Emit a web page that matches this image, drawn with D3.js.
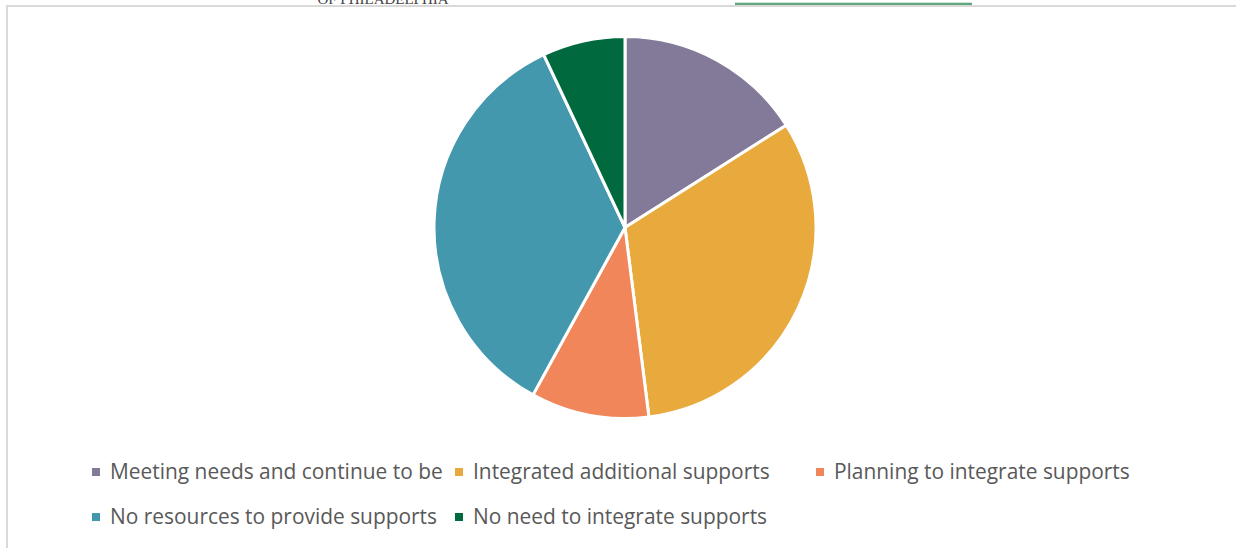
<!DOCTYPE html>
<html>
<head>
<meta charset="utf-8">
<script src="https://cdn.jsdelivr.net/npm/d3@7"></script>
<style>
html,body{margin:0;padding:0;background:#fff;overflow:hidden;}
svg{display:block;}
</style>
</head>
<body>
<svg id="chart" width="1236" height="548"></svg>
<script>
const categories = [
  "Meeting needs and continue to be",
  "Integrated additional supports",
  "Planning to integrate supports",
  "No resources to provide supports",
  "No need to integrate supports"
];
const values = [16, 32, 10, 35, 7];
const colors = ["#837A99", "#E8AA3C", "#F0865A", "#4498AD", "#006A3E"];

const svg = d3.select("#chart");

// page fragments above the chart frame (cut off as in the source page)
svg.append("text")
  .attr("x", 383).attr("y", 4)
  .attr("text-anchor", "middle")
  .attr("font-family", "Liberation Serif, DejaVu Serif, serif")
  .attr("font-size", 15)
  .attr("fill", "#444")
  .text("OF PHILADELPHIA");
svg.append("rect").attr("x", 735).attr("y", 2).attr("width", 237).attr("height", 1).attr("fill", "#cfe6d8");
svg.append("rect").attr("x", 735).attr("y", 3).attr("width", 237).attr("height", 2).attr("fill", "#5FA57E");

// frame
svg.append("rect").attr("x", 0).attr("y", 7).attr("width", 1236).attr("height", 541).attr("fill", "#fff");
svg.append("rect").attr("x", 6).attr("y", 5).attr("width", 1230).attr("height", 2).attr("fill", "#D9D9D9");
svg.append("rect").attr("x", 6).attr("y", 5).attr("width", 2).attr("height", 543).attr("fill", "#D9D9D9");

// pie
const cx = 625, cy = 227.5, r = 191;
const pie = d3.pie().sort(null).value(d => d)(values);
const arc = d3.arc().innerRadius(0).outerRadius(r);
const color = d3.scaleOrdinal().domain(categories).range(colors);

svg.append("g")
  .attr("transform", `translate(${cx},${cy})`)
  .selectAll("path")
  .data(pie)
  .join("path")
  .attr("d", arc)
  .attr("fill", (d, i) => color(categories[i]))
  .attr("stroke", "#fff")
  .attr("stroke-width", 3)
  .attr("stroke-linejoin", "round");

// legend
const legendPos = [
  {x: 92, y: 472}, {x: 455, y: 472}, {x: 816, y: 472},
  {x: 92, y: 517}, {x: 455, y: 517}
];
const lg = svg.append("g").selectAll("g").data(categories).join("g")
  .attr("transform", (d, i) => `translate(${legendPos[i].x},${legendPos[i].y})`);
lg.append("rect").attr("x", 0).attr("y", -4).attr("width", 8).attr("height", 8)
  .attr("fill", d => color(d));
const texts = lg.append("text").attr("x", 18).attr("y", 7)
  .attr("font-family", "'Open Sans', Lato, sans-serif")
  .attr("font-size", 20)
  .attr("fill", "#595959")
  .text(d => d);
// fit font size so the first label spans the same width as the original
const w0 = texts.node().getComputedTextLength();
const fs = 20 * 333 / w0;
texts.attr("font-size", fs);
</script>
</body>
</html>
